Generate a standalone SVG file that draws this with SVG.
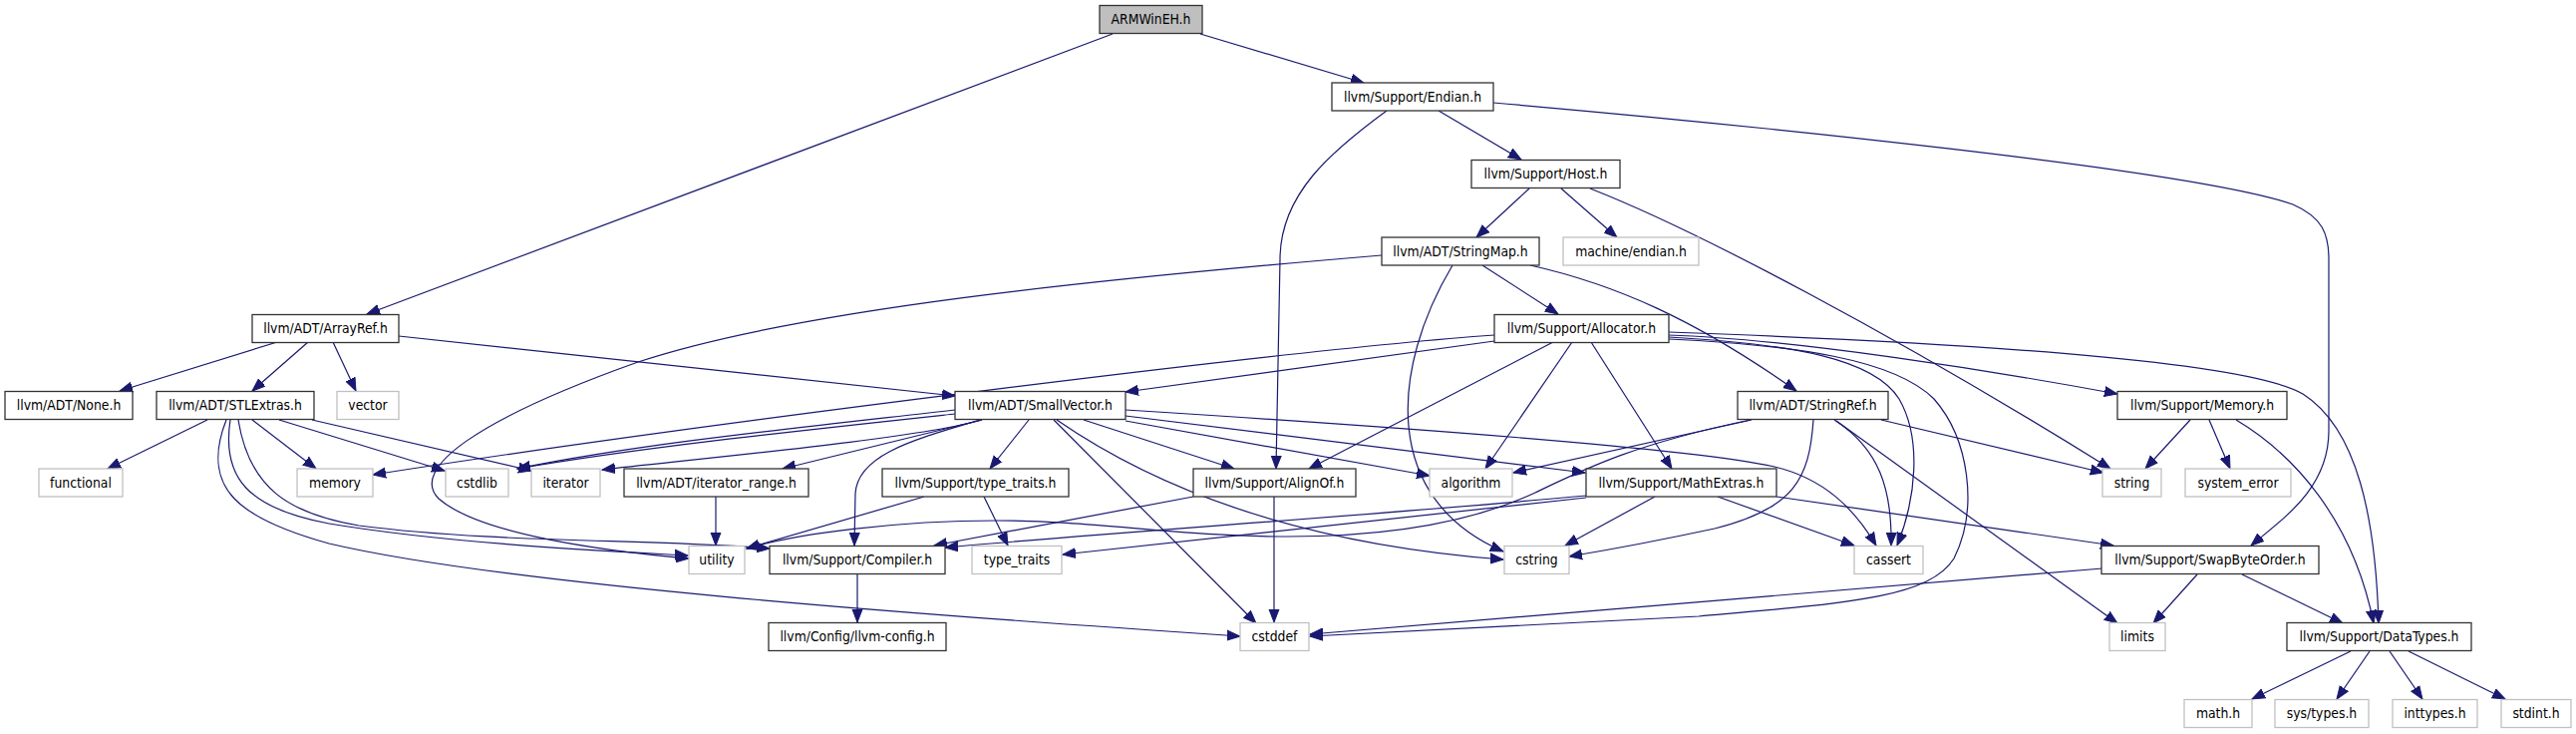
<svg xmlns="http://www.w3.org/2000/svg" width="2584" height="736" viewBox="0 0 2584 736">
<style>
.n rect{fill:#fff;stroke:#333;stroke-width:1.3}
.g rect{fill:#fff;stroke:#c0c0c0;stroke-width:1.3}
.r rect{fill:#bfbfbf;stroke:#333;stroke-width:1.3}
text{font-family:"DejaVu Sans Condensed","Liberation Sans",sans-serif;font-size:13.8px;text-anchor:middle;fill:#000}
#edges path{fill:none;stroke:#191970;stroke-width:1.2;marker-end:url(#a)}
</style>
<defs>
<marker id="a" markerUnits="userSpaceOnUse" markerWidth="14" markerHeight="12" refX="13" refY="5" orient="auto" viewBox="0 0 14 10"><path d="M0,0 L13,5 L0,10 z" fill="#191970" stroke="#191970" stroke-width="1"/></marker>
</defs>
<rect width="2584" height="736" fill="#fff"/>
<g id="edges">
<path d="M1116,34 L368,315"/>
<path d="M1204,34 L1368,83"/>
<path d="M278,343 L120,392"/>
<path d="M309,343 L253,392"/>
<path d="M334,343 L357,392"/>
<path d="M400,337 L958,397"/>
<path d="M1443,111 L1526,160"/>
<path d="M1391,111 C1335,152 1284,195 1284,260 L1280,470"/>
<path d="M1498,103 C1750,125 2200,170 2300,205 C2330,218 2336,235 2336,260 L2336,432 C2336,490 2290,520 2258,547"/>
<path d="M1534,189 L1481,238"/>
<path d="M1566,189 L1622,238"/>
<path d="M1595,189 C1700,230 1900,335 2117,470"/>
<path d="M1487,266 L1563,315"/>
<path d="M1535,266 C1620,285 1700,320 1802,392"/>
<path d="M1457,266 C1395,370 1385,500 1508,553"/>
<path d="M1386,256 C1100,280 800,310 640,363 C480,420 410,470 440,500 C480,535 600,552 691,560"/>
<path d="M1499,342 L1129,393"/>
<path d="M1499,336 C1300,350 700,425 374,476"/>
<path d="M1558,343 L1313,470"/>
<path d="M1577,343 L1490,470"/>
<path d="M1596,343 L1677,470"/>
<path d="M1674,333 C1950,343 2250,360 2310,395 C2365,430 2383,520 2386,625"/>
<path d="M1674,336 C1800,340 2000,372 2124,395"/>
<path d="M1674,338 C1800,345 1880,360 1905,400 C1928,440 1922,500 1903,547"/>
<path d="M1674,340 C1800,346 1900,360 1940,400 C1975,440 1985,510 1960,560 C1935,600 1850,605 1704,618 L1314,638"/>
<path d="M958,411 C800,429 640,445 519,470"/>
<path d="M958,415 C800,432 640,449 519,470"/>
<path d="M985,421 C920,440 700,460 604,471"/>
<path d="M985,421 L785,470"/>
<path d="M983,421 C920,440 860,455 858,495 L857,547"/>
<path d="M1032,421 L993,470"/>
<path d="M1087,421 L1238,470"/>
<path d="M1057,421 L1260,625"/>
<path d="M1060,421 C1160,490 1300,545 1508,561"/>
<path d="M1129,411 C1400,428 1700,450 1780,468 C1830,480 1860,510 1882,547"/>
<path d="M1129,417 L1590,474"/>
<path d="M1129,422 L1434,477"/>
<path d="M208,421 L108,470"/>
<path d="M253,421 L317,470"/>
<path d="M280,421 L446,472"/>
<path d="M313,421 L533,472"/>
<path d="M227,421 C200,490 240,520 330,545 C500,585 900,615 1244,638"/>
<path d="M231,421 C222,480 250,510 330,525 C450,545 600,552 690,557"/>
<path d="M239,421 C250,490 290,515 360,527 C500,545 650,540 772,550"/>
<path d="M927,498 L749,550"/>
<path d="M987,498 L1011,547"/>
<path d="M718,498 L718,547"/>
<path d="M860,575 L860,624"/>
<path d="M1197,498 L937,547"/>
<path d="M1278,498 L1278,624"/>
<path d="M1757,421 L1518,474"/>
<path d="M1756,421 C1640,445 1590,470 1540,494 C1480,522 1400,538 1292,538 C1180,538 1100,522 1000,522 C900,522 800,535 749,550"/>
<path d="M1819,421 C1815,480 1800,510 1720,530 C1650,545 1610,552 1574,558"/>
<path d="M1840,421 C1885,450 1898,490 1897,547"/>
<path d="M1842,422 L2124,625"/>
<path d="M1887,421 L2110,474"/>
<path d="M1660,498 L1570,547"/>
<path d="M1723,498 L1860,547"/>
<path d="M1782,498 L2120,547"/>
<path d="M1591,497 C1400,515 1100,535 948,549"/>
<path d="M1591,499 L1066,556"/>
<path d="M2197,421 L2152,470"/>
<path d="M2216,421 L2237,470"/>
<path d="M2243,421 C2300,455 2360,520 2381,625"/>
<path d="M2204,576 L2160,625"/>
<path d="M2249,576 L2350,625"/>
<path d="M2109,570 L1314,636"/>
<path d="M2358,653 L2259,701"/>
<path d="M2377,653 L2344,701"/>
<path d="M2397,653 L2430,701"/>
<path d="M2416,653 L2513,701"/>
</g>
<g id="n1" class="r"><rect x="1103" y="5.5" width="103" height="28"/><text x="1154.5" y="24">ARMWinEH.h</text></g>
<g id="n2" class="n"><rect x="1336" y="83" width="162" height="28"/><text x="1417" y="101.5">llvm/Support/Endian.h</text></g>
<g id="n3" class="n"><rect x="1476" y="160.5" width="149" height="28"/><text x="1550.5" y="179">llvm/Support/Host.h</text></g>
<g id="n4" class="n"><rect x="1386" y="238" width="158" height="28"/><text x="1465" y="256.5">llvm/ADT/StringMap.h</text></g>
<g id="n5" class="g"><rect x="1568" y="238" width="136" height="28"/><text x="1636" y="256.5">machine/endian.h</text></g>
<g id="n6" class="n"><rect x="1499" y="315.5" width="175" height="28"/><text x="1586.5" y="334">llvm/Support/Allocator.h</text></g>
<g id="n7" class="n"><rect x="253" y="315.5" width="147" height="28"/><text x="326.5" y="334">llvm/ADT/ArrayRef.h</text></g>
<g id="n8" class="n"><rect x="5" y="392.5" width="128" height="28"/><text x="69" y="411">llvm/ADT/None.h</text></g>
<g id="n9" class="n"><rect x="157" y="392.5" width="158" height="28"/><text x="236" y="411">llvm/ADT/STLExtras.h</text></g>
<g id="n10" class="g"><rect x="338" y="392.5" width="62" height="28"/><text x="369" y="411">vector</text></g>
<g id="n11" class="n"><rect x="958" y="392.5" width="171" height="28"/><text x="1043.5" y="411">llvm/ADT/SmallVector.h</text></g>
<g id="n12" class="n"><rect x="1743" y="392.5" width="151" height="28"/><text x="1818.5" y="411">llvm/ADT/StringRef.h</text></g>
<g id="n13" class="n"><rect x="2124" y="392.5" width="170" height="28"/><text x="2209" y="411">llvm/Support/Memory.h</text></g>
<g id="n14" class="g"><rect x="39" y="470" width="84" height="28"/><text x="81" y="488.5">functional</text></g>
<g id="n15" class="g"><rect x="298" y="470" width="76" height="28"/><text x="336" y="488.5">memory</text></g>
<g id="n16" class="g"><rect x="447" y="470" width="63" height="28"/><text x="478.5" y="488.5">cstdlib</text></g>
<g id="n17" class="g"><rect x="533" y="470" width="69" height="28"/><text x="567.5" y="488.5">iterator</text></g>
<g id="n18" class="n"><rect x="626" y="470" width="185" height="28"/><text x="718.5" y="488.5">llvm/ADT/iterator_range.h</text></g>
<g id="n19" class="n"><rect x="885" y="470" width="187" height="28"/><text x="978.5" y="488.5">llvm/Support/type_traits.h</text></g>
<g id="n20" class="n"><rect x="1197" y="470" width="163" height="28"/><text x="1278.5" y="488.5">llvm/Support/AlignOf.h</text></g>
<g id="n21" class="g"><rect x="1434" y="470" width="83" height="28"/><text x="1475.5" y="488.5">algorithm</text></g>
<g id="n22" class="n"><rect x="1591" y="470" width="191" height="28"/><text x="1686.5" y="488.5">llvm/Support/MathExtras.h</text></g>
<g id="n23" class="g"><rect x="2109" y="470" width="59" height="28"/><text x="2138.5" y="488.5">string</text></g>
<g id="n24" class="g"><rect x="2192" y="470" width="106" height="28"/><text x="2245" y="488.5">system_error</text></g>
<g id="n25" class="g"><rect x="691" y="547.5" width="56" height="28"/><text x="719" y="566">utility</text></g>
<g id="n26" class="n"><rect x="772" y="547.5" width="176" height="28"/><text x="860" y="566">llvm/Support/Compiler.h</text></g>
<g id="n27" class="g"><rect x="975" y="547.5" width="90" height="28"/><text x="1020" y="566">type_traits</text></g>
<g id="n28" class="g"><rect x="1509" y="547.5" width="65" height="28"/><text x="1541.5" y="566">cstring</text></g>
<g id="n29" class="g"><rect x="1860" y="547.5" width="69" height="28"/><text x="1894.5" y="566">cassert</text></g>
<g id="n30" class="n"><rect x="2108" y="547.5" width="218" height="28"/><text x="2217" y="566">llvm/Support/SwapByteOrder.h</text></g>
<g id="n31" class="n"><rect x="771" y="624.5" width="178" height="28"/><text x="860" y="643">llvm/Config/llvm-config.h</text></g>
<g id="n32" class="g"><rect x="1244" y="624.5" width="69" height="28"/><text x="1278.5" y="643">cstddef</text></g>
<g id="n33" class="g"><rect x="2116" y="624.5" width="56" height="28"/><text x="2144" y="643">limits</text></g>
<g id="n34" class="n"><rect x="2294" y="624.5" width="185" height="28"/><text x="2386.5" y="643">llvm/Support/DataTypes.h</text></g>
<g id="n35" class="g"><rect x="2191" y="701.5" width="68" height="28"/><text x="2225" y="720">math.h</text></g>
<g id="n36" class="g"><rect x="2282" y="701.5" width="94" height="28"/><text x="2329" y="720">sys/types.h</text></g>
<g id="n37" class="g"><rect x="2400" y="701.5" width="85" height="28"/><text x="2442.5" y="720">inttypes.h</text></g>
<g id="n38" class="g"><rect x="2509" y="701.5" width="70" height="28"/><text x="2544" y="720">stdint.h</text></g>
</svg>
